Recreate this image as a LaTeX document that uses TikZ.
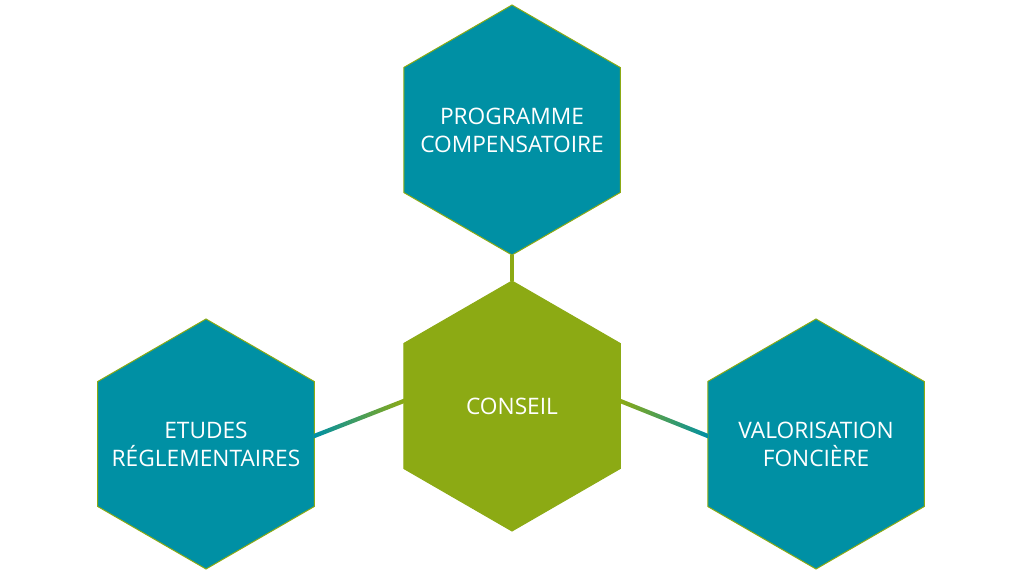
\documentclass[tikz,border=0pt]{standalone}
\usepackage{fontspec}
\setmainfont{Open Sans}
\usepackage{tikz}
\usetikzlibrary{shapes.geometric,calc}
\definecolor{hexTeal} {RGB}{0, 144, 164}
\definecolor{hexGreen}{RGB}{140, 170, 20}

\tikzset{
  hexa/.style={regular polygon, regular polygon sides=6,
               shape border rotate=30, minimum size=250pt,
               inner sep=0pt, outer sep=0pt, draw=hexGreen,
               line width=1pt, fill=#1},
  hexa/.default=hexTeal,
  hextext/.style={text=white, align=center, inner sep=0pt,
                  font=\fontsize{22.7}{28}\selectfont}
}

\begin{document}
\begin{tikzpicture}[x=1pt,y=1pt]
        \useasboundingbox (0,0) rectangle (1024,576);

        % Hexagones
        \node[hexa,label={[hextext]center:PROGRAMME\\COMPENSATOIRE}]
          (prog) at (512,446){};
        \node[hexa=hexGreen,label={[hextext]center:CONSEIL}]
          (cons) at (512,170){};
        \node[hexa,label={[hextext]center:ETUDES\\RÉGLEMENTAIRES}]
          (etud) at (206,132){};
        \node[hexa,label={[hextext]center:VALORISATION\\FONCIÈRE}]
          (valo) at (816,132){};

        % Liens
        \draw[hexGreen,line width=4.5pt] (prog.south) -- (cons.north);
        \shade[left color=hexTeal,right color=hexGreen]
          ($(etud.east)+(0,10.3)$) -- ($(cons.west)+(0,7.3)$) --
          ($(cons.west)+(0,2.7)$) -- ($(etud.east)+(0,5.7)$) -- cycle;
        \shade[left color=hexGreen,right color=hexTeal]
          ($(cons.east)+(0,7.3)$) -- ($(valo.west)+(0,10.3)$) --
          ($(valo.west)+(0,5.7)$) -- ($(cons.east)+(0,2.7)$) -- cycle;
      \end{tikzpicture}
\end{document}
